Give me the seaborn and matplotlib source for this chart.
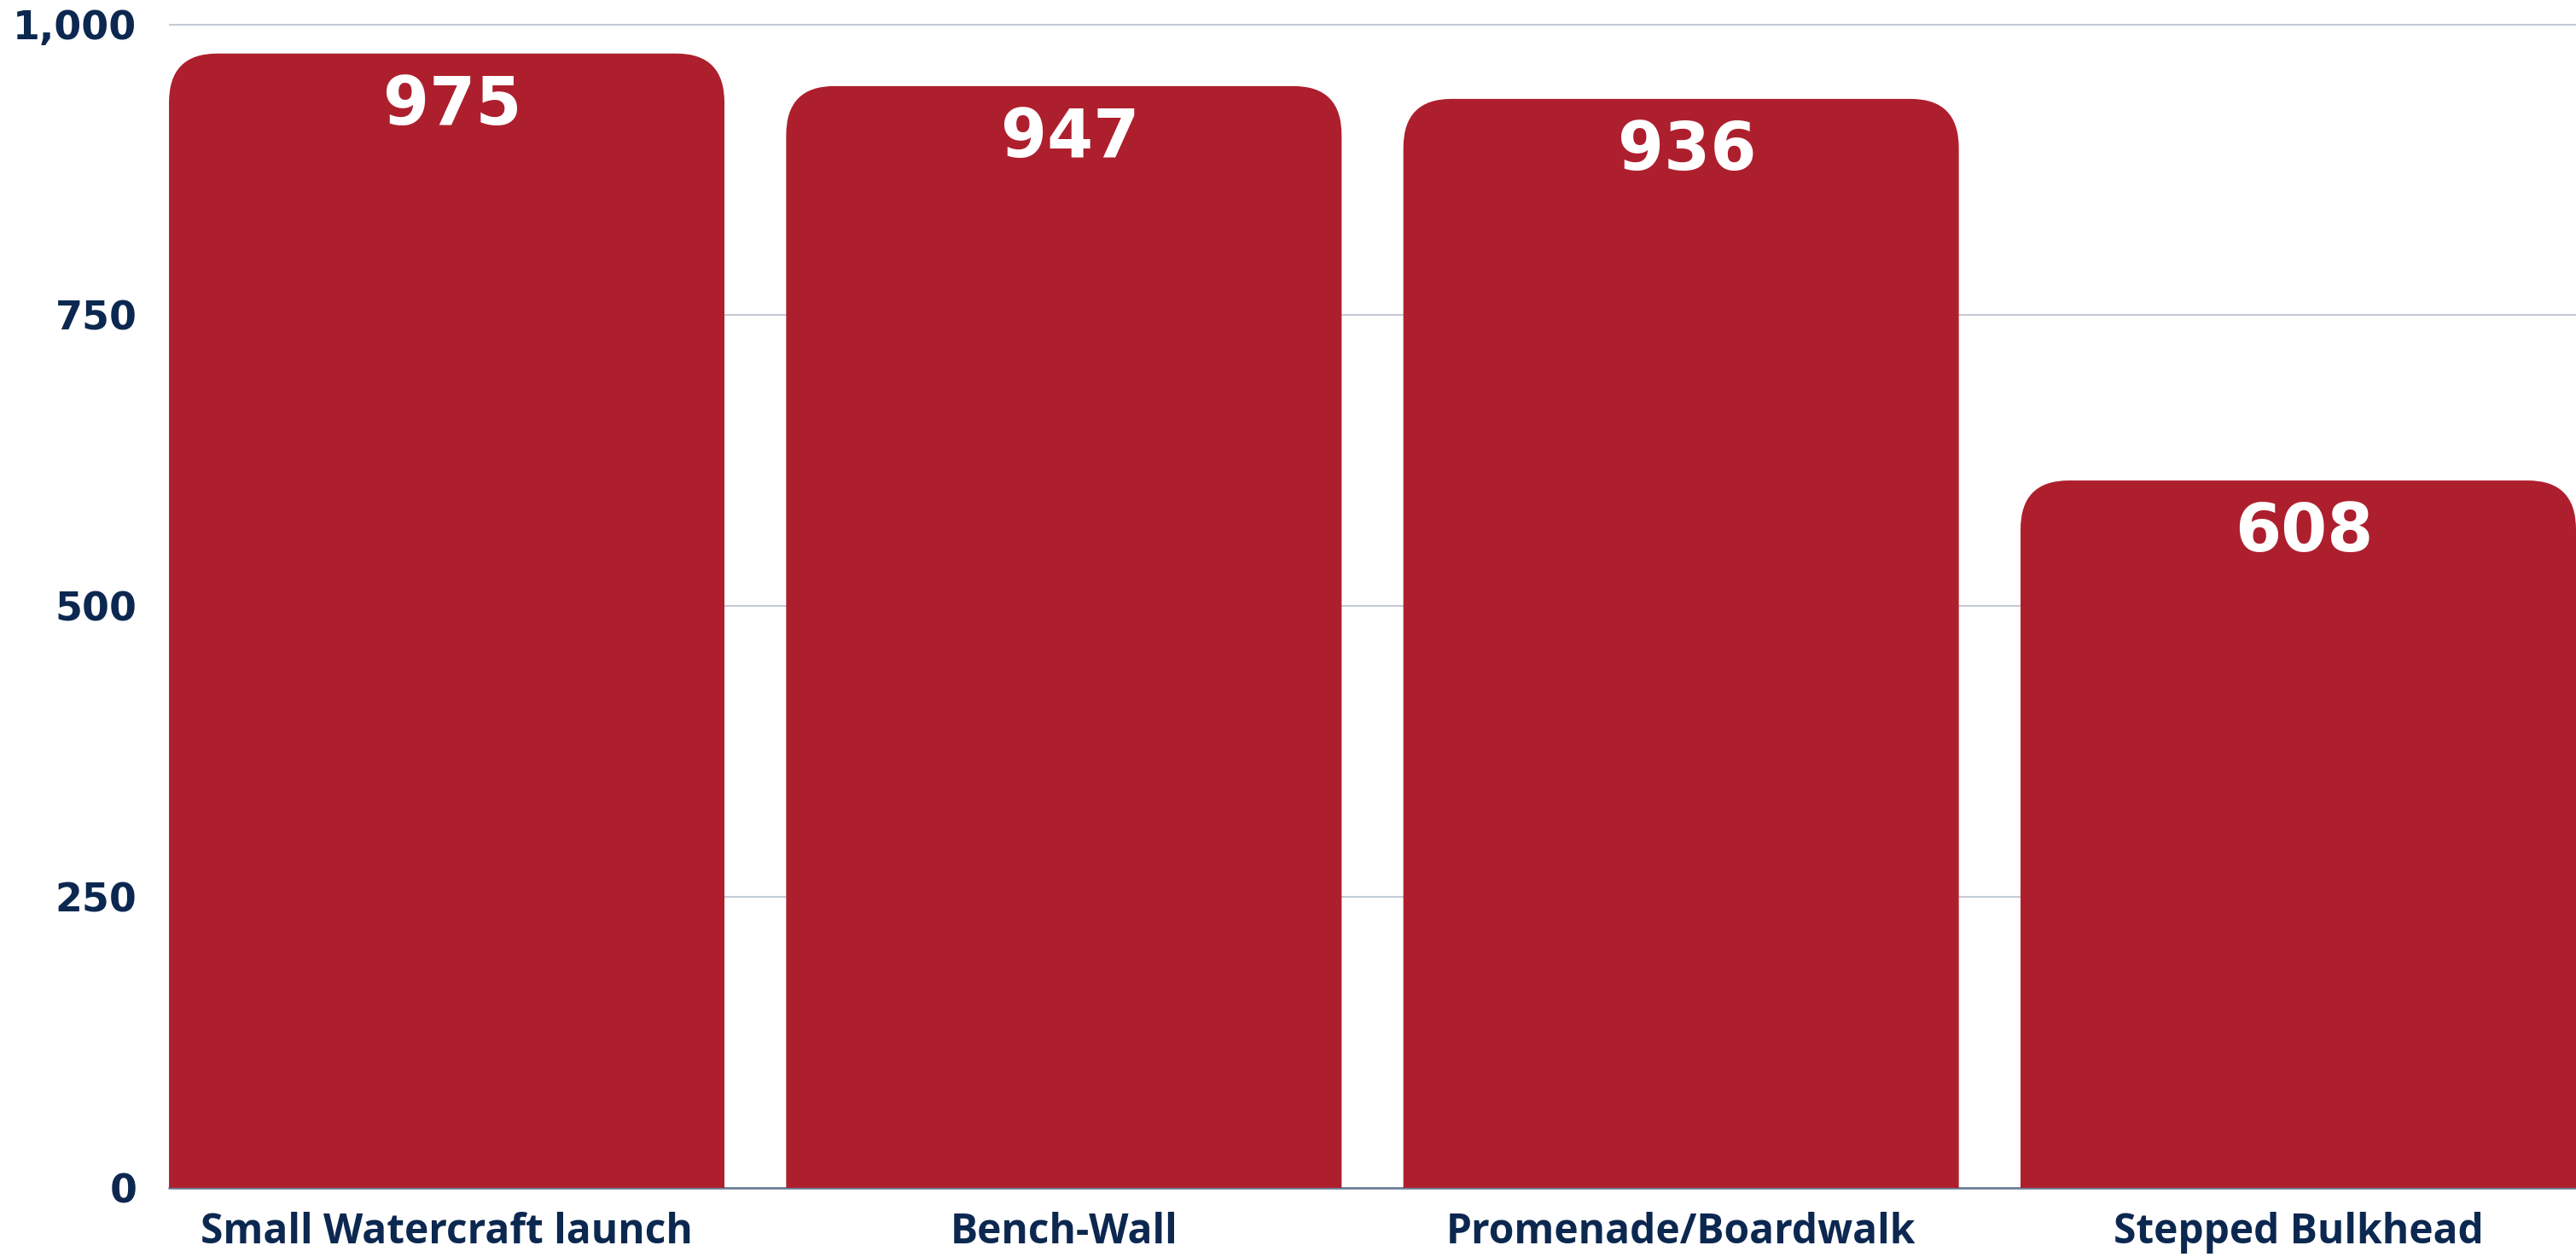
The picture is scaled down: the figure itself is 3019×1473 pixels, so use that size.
import numpy as np
import pandas as pd
import seaborn as sns
import matplotlib.pyplot as plt
from matplotlib.patches import FancyBboxPatch
from matplotlib.ticker import FuncFormatter

# data
categories = ['Small Watercraft launch', 'Bench-Wall', 'Promenade/Boardwalk', 'Stepped Bulkhead']
counts = [975, 947, 936, 608]

red = '#ae1f2e'
navy = '#0c2850'

sns.set_theme(style='white')
plt.rcParams['font.family'] = ['Open Sans', 'DejaVu Sans']

df = pd.DataFrame({'category': categories, 'count': counts})

fig = plt.figure(figsize=(30.19, 14.73), dpi=100)
ax = fig.add_axes([0.0656, 0.055, 0.9344, 0.945])

sns.barplot(data=df, x='category', y='count', color=red, width=0.9, saturation=1, ax=ax)

ax.set_xlim(-0.45, 3.45)
ax.set_ylim(0, 1021)

# swap plain bars for ones with rounded tops
for p in list(ax.patches):
    x, w, h = p.get_x(), p.get_width(), p.get_height()
    p.set_visible(False)
    rb = FancyBboxPatch((x, -200), w, h + 200,
                        boxstyle='round,pad=0,rounding_size=0.078',
                        mutation_aspect=540, facecolor=red, edgecolor='none',
                        zorder=3, clip_on=True)
    ax.add_patch(rb)
    ax.annotate(f'{int(round(h))}', xy=(x + w / 2, h), xytext=(5, -44),
                textcoords='offset points', ha='center', va='center',
                color='white', fontsize=56, fontweight='bold',
                family='DejaVu Sans', zorder=4)

ax.set_yticks([0, 250, 500, 750, 1000])
ax.yaxis.set_major_formatter(FuncFormatter(lambda v, _: f'{int(v):,}'))
for yv in [250, 500, 750, 1000]:
    ax.axhline(yv, color='#c3cbd6', lw=1.5, zorder=1)
ax.axhline(0, color='#6c7f98', lw=2, zorder=2, clip_on=False)

for s in ax.spines.values():
    s.set_visible(False)

ax.set_xlabel('')
ax.set_ylabel('')
ax.tick_params(axis='y', length=0, pad=27, labelsize=33, labelcolor=navy)
ax.tick_params(axis='x', length=0, pad=20, labelsize=34.5, labelcolor=navy)
for lab in ax.get_xticklabels():
    lab.set_fontweight('bold')
for lab in ax.get_yticklabels():
    lab.set_fontweight('bold')
    lab.set_family('DejaVu Sans')

fig.savefig('out.png', dpi=100)
